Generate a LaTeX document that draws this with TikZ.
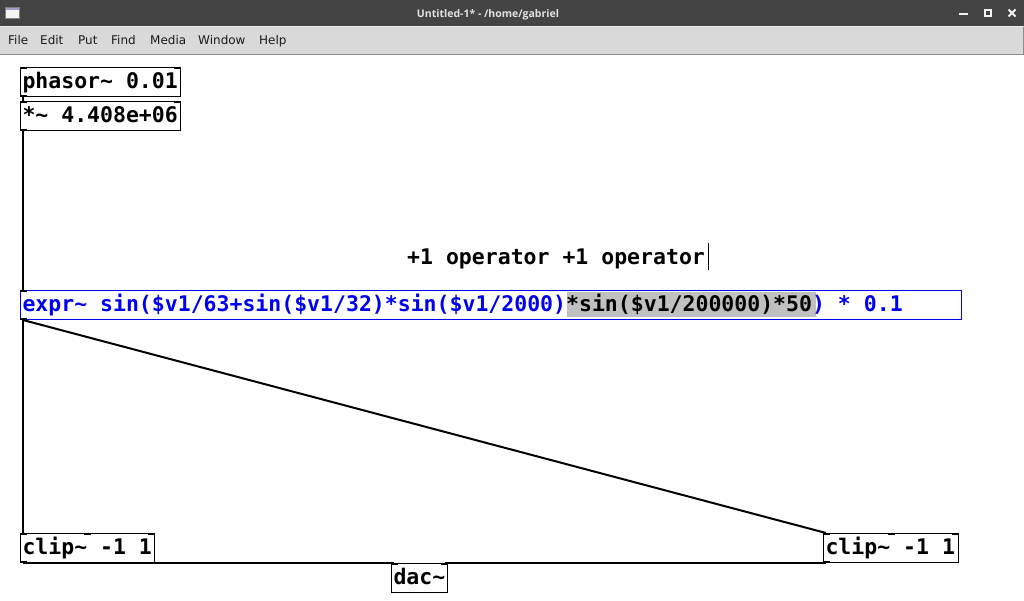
\documentclass[tikz,border=0pt]{standalone}
\usepackage{fontspec}
\usetikzlibrary{positioning}
\newfontfamily\pdfont{DejaVu Sans Mono}[WordSpace={1,0,0}]
\newfontfamily\menufont{DejaVu Sans}
\newfontfamily\titlefont{Open Sans}
\definecolor{titlebg}{HTML}{444444}
\definecolor{titletext}{HTML}{E2E2E2}
\definecolor{menubg}{HTML}{D9D9D9}
\definecolor{menuline}{HTML}{8C8C8C}
\definecolor{menutext}{HTML}{1A1A1A}
\definecolor{selgray}{HTML}{C0C0C0}
\definecolor{pdblue}{HTML}{0000F0}

\begin{document}
\begin{tikzpicture}[x=1pt,y=-1pt,node distance=4pt,
    obj/.style={draw,line width=1pt,anchor=north west,inner xsep=2pt,inner ysep=0pt,minimum height=29pt,
        text height=16.5pt,text depth=4.5pt,align=flush left,font=\pdfont\bfseries\fontsize{21.5}{24}\selectfont},
    conn/.style={line width=2pt},
    menu/.style={anchor=base west,inner sep=0pt,text=menutext,font=\menufont\fontsize{12}{14}\selectfont}]
    \useasboundingbox (0,0) rectangle (1024,600);
    \fill[white] (0,0) rectangle (1024,600);
    \fill[titlebg] (0,0) rectangle (1024,26);
    \fill[menubg] (0,26.5) rectangle (1024,53.5);
    \draw[white!85!gray,line width=1pt] (0,26) -- (1024,26);
    \draw[menuline,line width=1pt] (0,54) -- (1024,54);
    \draw[menuline,line width=1pt] (1023.5,26.5) -- (1023.5,54);
    \filldraw[fill=white!92!gray,draw=gray] (5,7) rectangle (19,18.5);
    \fill[blue!25!gray!60] (5.5,7.5) rectangle (18.5,9.5);
    \draw[white!90!gray,line width=2pt] (959,13.5) -- (968,13.5);
    \draw[white!90!gray,line width=2pt] (985.3,10.3) rectangle (991,16);
    \draw[white!90!gray,line width=2pt] (1008.5,9.5) -- (1015.5,16.5) (1008.5,16.5) -- (1015.5,9.5);
    \node[anchor=base,inner sep=0pt,text=titletext,font=\titlefont\bfseries\fontsize{10.5}{13}\selectfont] (title) at (488,17.5) {Untitled-1* - /home/gabriel};
    \node[menu] (file) at (8,44) {File};
    \node[menu] (edit) at (40,44) {Edit};
    \node[menu] (put) at (78,44) {Put};
    \node[menu] (find) at (111,44) {Find};
    \node[menu] (media) at (150,44) {Media};
    \node[menu] (window) at (198,44) {Window};
    \node[menu] (help) at (259,44) {Help};

    \node[obj,text width=156pt] (phasor) at (20,67) {phasor\textasciitilde{} 0.01};
    \node[obj,text width=156pt,below=4pt of phasor] (mul) {*\textasciitilde{} 4.408e+06};
    \node[anchor=base west,inner sep=0pt,font=\pdfont\bfseries\fontsize{21.5}{24}\selectfont] (cmt) at (407,264) {+1 operator +1 operator};
    \draw[line width=1pt] (708,243) -- (708,270);
    \fill[selgray] (567,292) rectangle (816,317);
    \node[obj,draw=pdblue,text=pdblue,text width=937pt] (expr) at (20,290)
        {expr\textasciitilde{} sin(\$v1/63+sin(\$v1/32)*sin(\$v1/2000)\textcolor{black}{*sin(\$v1/200000)*50}) * 0.1};
    \node[obj,text width=130pt] (clipL) at (20,533) {clip\textasciitilde{} -1 1};
    \node[obj,text width=131pt] (clipR) at (823,533) {clip\textasciitilde{} -1 1};
    \node[obj,text width=52pt] (dac) at (391,563) {dac\textasciitilde};

    \foreach \n in {phasor,mul,expr,clipL,clipR,dac}
        \fill (\n.north west) rectangle ++(7,2);
    \foreach \n in {phasor,mul,clipL,clipR,dac}
        \fill (\n.north east) rectangle ++(-7,2);
    \foreach \n in {clipL,clipR}
        \fill ([xshift=-3.5pt]\n.north) rectangle ++(7,2);
    \foreach \n in {phasor,mul,expr,clipL,clipR}
        \fill (\n.south west) rectangle ++(7,-2);

    \path[conn]
        ([xshift=3pt]phasor.south west) edge ([xshift=3pt]mul.north west)
        ([xshift=3pt]mul.south west) edge ([xshift=3pt]expr.north west)
        ([xshift=3pt]expr.south west) edge ([xshift=3pt]clipL.north west)
                                      edge ([xshift=3pt]clipR.north west)
        ([xshift=3pt]clipL.south west) edge ([xshift=3pt]dac.north west)
        ([xshift=3pt]clipR.south west) edge ([xshift=-3pt]dac.north east)
    ;
\end{tikzpicture}
\end{document}
